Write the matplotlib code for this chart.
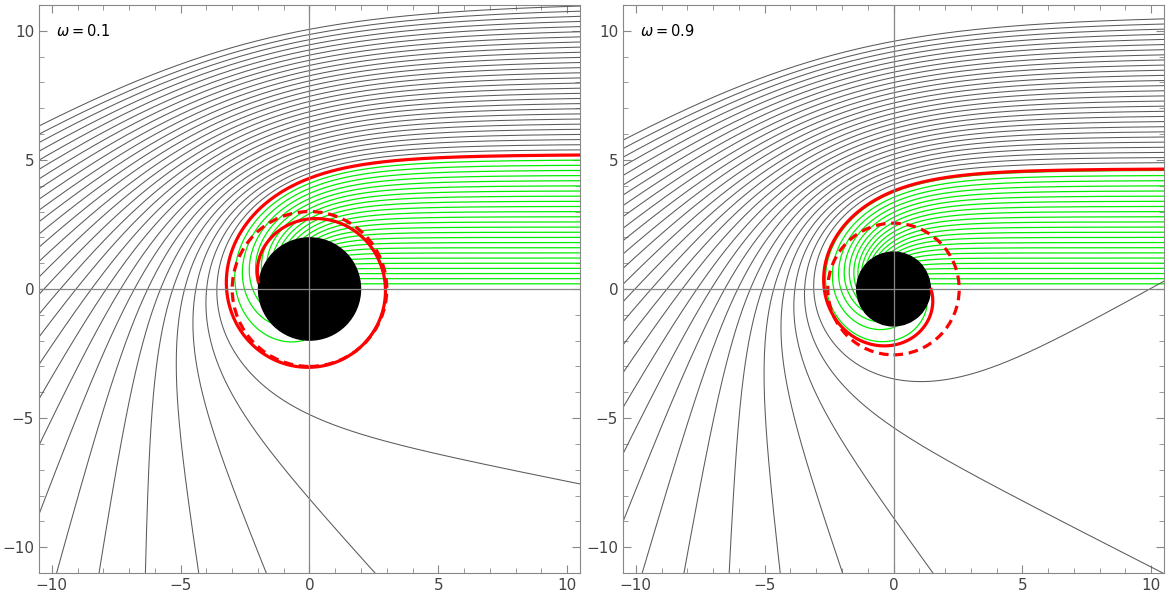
import matplotlib
matplotlib.use('Agg')
import matplotlib.pyplot as plt
import numpy as np
from matplotlib.patches import Circle
from matplotlib.ticker import MultipleLocator

# 面板标签
omega_text = ['0.1', '0.9']

# 度规 f(r) = 1 - 2M/r + q / r^n 的参数（按图中光线偏折估计）
mass = [1.0, 0.962]
q_coef = [-0.003, 1.29]
q_pow = [1.3, 3.7]

# 图中读出的视界半径（黑盘）和光子球半径（红色虚线）
horizon_r = [1.98, 1.43]
photon_r = [3.0, 2.55]

# 红色实线：比临界碰撞参数略小的量
red_gap = [0.002, 0.115]

# 落入黑洞的光线（绿色）的碰撞参数
b_fall = [
    [0.2, 0.4, 0.6, 0.8, 1.0, 1.2, 1.4, 1.6, 1.8, 2.0, 2.2, 2.4, 2.6,
     2.8, 3.0, 3.2, 3.4, 3.6, 3.8, 4.0, 4.2, 4.4, 4.6, 4.8, 5.0],
    [0.2, 0.4, 0.6, 0.8, 1.0, 1.2, 1.4, 1.6, 1.8, 2.0, 2.2, 2.4, 2.6,
     2.8, 3.0, 3.2, 3.4, 3.6, 3.8, 4.0, 4.2, 4.4, 4.6],
]
# 逃逸的光线（灰色）的碰撞参数
b_escape = [
    [5.4, 5.6, 5.8, 6.0, 6.2, 6.4, 6.6, 6.8, 7.0, 7.2, 7.4, 7.6, 7.8,
     8.0, 8.2, 8.4, 8.6, 8.8, 9.0, 9.2, 9.4, 9.6, 9.8, 10.0, 10.2, 10.4,
     10.6, 10.8, 11.0],
    [4.9, 5.1, 5.3, 5.5, 5.7, 5.9, 6.1, 6.3, 6.5, 6.7, 6.9, 7.1, 7.3,
     7.5, 7.7, 7.9, 8.1, 8.3, 8.5, 8.7, 8.9, 9.1, 9.3, 9.5, 9.7, 9.9,
     10.1, 10.3, 10.5],
]

x_start = 12.0


def metric_f(u, M, q, n):
    return 1 - 2 * M * u + q * np.maximum(u, 0) ** n


def critical(M, q, n):
    # 视界半径与临界碰撞参数
    u = np.linspace(1e-4, 1.2, 1200001)
    f = metric_f(u, M, q, n)
    if (f <= 0).any():
        j = np.argmax(f <= 0)
    else:
        j = np.argmin(f)
    g = u[:j] ** 2 * f[:j]
    return 1 / u[j], 1 / np.sqrt(g.max())


def trace(bs, M, q, n, r_h, h=0.002, nstep=7500):
    bs = np.asarray(bs, float)
    phi = np.arctan2(bs, x_start)
    u = 1 / np.hypot(x_start, bs)
    du = np.sqrt(np.maximum(1 / bs ** 2 - u ** 2 * metric_f(u, M, q, n), 0))

    def acc(v):
        vp = np.maximum(v, 0)
        return -v + 3 * M * v ** 2 - 0.5 * (n + 2) * q * vp ** (n + 1)

    xs = [np.cos(phi) / u]
    ys = [np.sin(phi) / u]
    alive = np.ones(len(bs), bool)
    for _ in range(nstep):
        k1u, k1v = du, acc(u)
        k2u, k2v = du + 0.5 * h * k1v, acc(u + 0.5 * h * k1u)
        k3u, k3v = du + 0.5 * h * k2v, acc(u + 0.5 * h * k2u)
        k4u, k4v = du + h * k3v, acc(u + h * k3u)
        u = u + h / 6 * (k1u + 2 * k2u + 2 * k3u + k4u)
        du = du + h / 6 * (k1v + 2 * k2v + 2 * k3v + k4v)
        phi = phi + h
        hit = alive & (u >= 1 / r_h)
        esc = alive & (du < 0) & (u < 1 / 60)
        uu = np.where(hit, 1 / r_h, np.maximum(u, 1e-6))
        xs.append(np.where(alive, np.cos(phi) / uu, np.nan))
        ys.append(np.where(alive, np.sin(phi) / uu, np.nan))
        alive &= ~(hit | esc)
        if not alive.any():
            break
    return np.array(xs), np.array(ys)


fig = plt.figure(figsize=(11.69, 6.02), dpi=100)
boxes = [[39 / 1169, 29 / 602, 541 / 1169, 568 / 602],
         [623 / 1169, 29 / 602, 541 / 1169, 568 / 602]]

for k in range(2):
    ax = fig.add_axes(boxes[k])
    M, q, n = mass[k], q_coef[k], q_pow[k]
    r_stop, b_c = critical(M, q, n)

    gx, gy = trace(b_fall[k], M, q, n, r_stop)
    ax.plot(gx, gy, color='#00ee00', lw=0.9, zorder=2)
    ex, ey = trace(b_escape[k], M, q, n, r_stop)
    ax.plot(ex, ey, color='#5a5a5a', lw=0.75, zorder=2)
    rx, ry = trace([b_c - red_gap[k]], M, q, n, r_stop)
    ax.plot(rx, ry, color='#ff0000', lw=2.3, zorder=4)

    ax.add_patch(Circle((0, 0), photon_r[k], fill=False, ec='#ff0000',
                        lw=2.3, ls=(0, (3, 1.8)), zorder=4))
    ax.add_patch(Circle((0, 0), horizon_r[k], color='black', zorder=3))
    ax.axhline(0, color='#888888', lw=0.9, zorder=5)
    ax.axvline(0, color='#888888', lw=0.9, zorder=5)

    ax.set_xlim(-10.5, 10.5)
    ax.set_ylim(-11, 11)
    ax.set_xticks([-10, -5, 0, 5, 10])
    ax.set_yticks([-10, -5, 0, 5, 10])
    ax.xaxis.set_minor_locator(MultipleLocator(1))
    ax.yaxis.set_minor_locator(MultipleLocator(1))
    ax.tick_params(which='both', direction='in', top=True, right=True,
                   color='#888888', labelcolor='#444444', labelsize=11)
    ax.tick_params(which='major', length=6)
    ax.tick_params(which='minor', length=3.5)
    for s in ax.spines.values():
        s.set_color('#888888')
    ax.text(-9.85, 10.0, r'$\omega = $' + omega_text[k], fontsize=10.5,
            va='center', ha='left', zorder=6)

fig.savefig('out.png', dpi=100)
